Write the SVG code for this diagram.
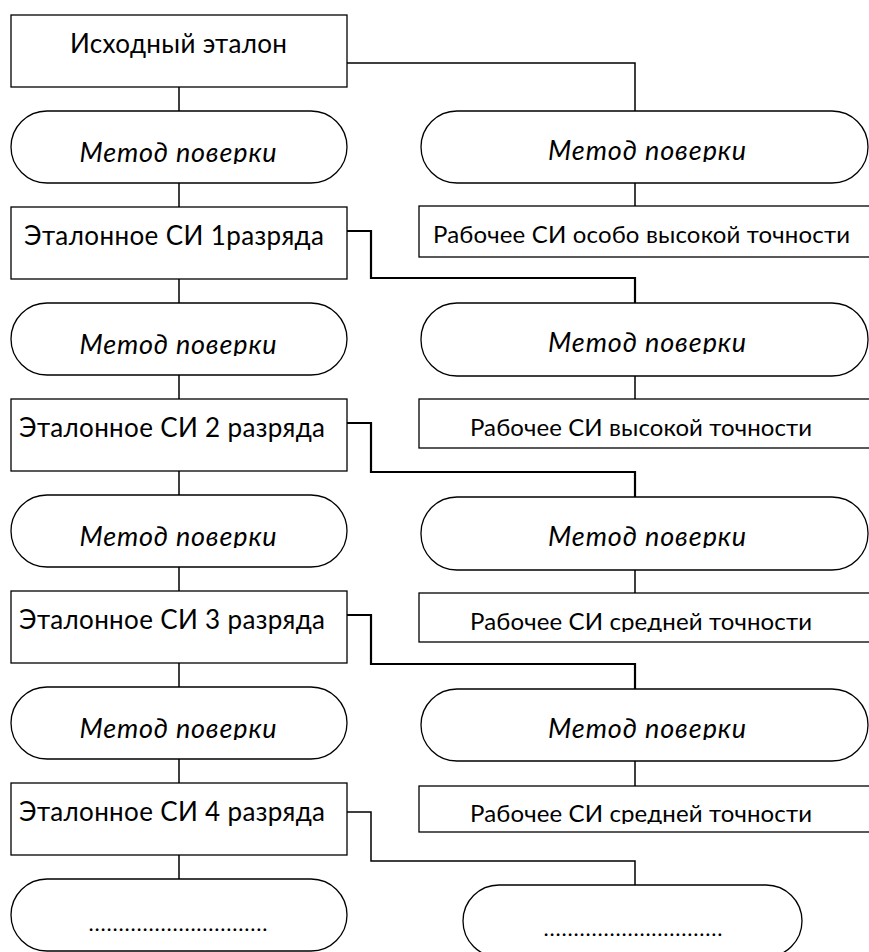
<svg xmlns="http://www.w3.org/2000/svg" width="869" height="952" viewBox="0 0 869 952">
<style>
  .box { fill: #fff; stroke: #000; stroke-width: 1.3; }
  .conn { fill: none; stroke: #000; stroke-width: 1.5; }
  .conn2 { fill: none; stroke: #000; stroke-width: 2.2; }
  .t { font-family: Lato, "Liberation Sans", sans-serif; font-size: 26px; fill: #000; text-anchor: middle; }
  .ti { font-family: Lato, "Liberation Sans", sans-serif; font-size: 27px; font-style: italic; fill: #000; text-anchor: middle; }
  .tr { font-family: Lato, "Liberation Sans", sans-serif; font-size: 24px; fill: #000; text-anchor: middle; }
  .dots { font-family: Lato, "Liberation Sans", sans-serif; font-size: 22px; fill: #000; text-anchor: middle; }
</style>
<defs>
  <clipPath id="cL1"><rect x="11" y="111" width="336" height="53"/></clipPath>
  <clipPath id="cL2"><rect x="11" y="303" width="336" height="53"/></clipPath>
  <clipPath id="cL3"><rect x="11" y="495" width="336" height="53"/></clipPath>
  <clipPath id="cL4"><rect x="11" y="687" width="336" height="53"/></clipPath>
  <clipPath id="cR1"><rect x="421" y="111" width="448" height="51"/></clipPath>
  <clipPath id="cR2"><rect x="421" y="303" width="448" height="51"/></clipPath>
  <clipPath id="cR3"><rect x="421" y="497" width="448" height="51"/></clipPath>
  <clipPath id="cR4"><rect x="421" y="689" width="448" height="51"/></clipPath>
  <clipPath id="cB3"><rect x="419" y="593" width="450" height="39"/></clipPath>
  <clipPath id="cB4"><rect x="419" y="786" width="450" height="38"/></clipPath>
</defs>

<g id="connectors">
  <path class="conn" d="M179,87 V111 M179,183 V207 M179,279 V303 M179,375 V399 M179,471 V495 M179,567 V591 M179,663 V687 M179,759 V783 M179,855 V879"/>
  <path class="conn" d="M347,63 H635 V111"/>
  <path class="conn2" d="M347,231 H371 V278 H635 V303"/>
  <path class="conn2" d="M347,423 H371 V472 H635 V497"/>
  <path class="conn2" d="M347,615 H371 V664 H635 V689"/>
  <path class="conn" d="M347,812 H371 V861 H635 V885"/>
  <path class="conn" d="M635,183 V206 M635,376 V399 M635,570 V593 M635,761 V786"/>
</g>

<g id="etalon-source">
  <rect class="box" x="11" y="15" width="336" height="72"/>
  <text class="t" x="178.5" y="53" textLength="217" lengthAdjust="spacing">Исходный эталон</text>
</g>
<g id="method-L1">
  <rect class="box" x="11" y="111" width="336" height="72" rx="36" ry="36"/>
  <text class="ti" x="178" y="162" textLength="197" lengthAdjust="spacing" clip-path="url(#cL1)">Метод поверки</text>
</g>
<g id="etalon-1">
  <rect class="box" x="11" y="207" width="336" height="72"/>
  <text class="t" x="174" y="245" textLength="300" lengthAdjust="spacing">Эталонное СИ 1разряда</text>
</g>
<g id="method-L2">
  <rect class="box" x="11" y="303" width="336" height="72" rx="36" ry="36"/>
  <text class="ti" x="178" y="354" textLength="197" lengthAdjust="spacing" clip-path="url(#cL2)">Метод поверки</text>
</g>
<g id="etalon-2">
  <rect class="box" x="11" y="399" width="336" height="72"/>
  <text class="t" x="172" y="437" textLength="306" lengthAdjust="spacing">Эталонное СИ 2 разряда</text>
</g>
<g id="method-L3">
  <rect class="box" x="11" y="495" width="336" height="72" rx="36" ry="36"/>
  <text class="ti" x="178" y="546" textLength="197" lengthAdjust="spacing" clip-path="url(#cL3)">Метод поверки</text>
</g>
<g id="etalon-3">
  <rect class="box" x="11" y="591" width="336" height="72"/>
  <text class="t" x="172" y="629" textLength="306" lengthAdjust="spacing">Эталонное СИ 3 разряда</text>
</g>
<g id="method-L4">
  <rect class="box" x="11" y="687" width="336" height="72" rx="36" ry="36"/>
  <text class="ti" x="178" y="738" textLength="197" lengthAdjust="spacing" clip-path="url(#cL4)">Метод поверки</text>
</g>
<g id="etalon-4">
  <rect class="box" x="11" y="783" width="336" height="72"/>
  <text class="t" x="172" y="821" textLength="306" lengthAdjust="spacing">Эталонное СИ 4 разряда</text>
</g>
<g id="method-L5">
  <rect class="box" x="11" y="879" width="336" height="72" rx="36" ry="36"/>
  <text class="dots" x="178" y="931" textLength="179" lengthAdjust="spacing">..............................</text>
</g>

<g id="method-R1">
  <rect class="box" x="421" y="111" width="447" height="72" rx="36" ry="36"/>
  <text class="ti" x="647" y="160" textLength="198" lengthAdjust="spacing" clip-path="url(#cR1)">Метод поверки</text>
</g>
<g id="work-1">
  <rect class="box" x="419" y="206" width="470" height="51"/>
  <text class="tr" x="641.5" y="243" textLength="417" lengthAdjust="spacing">Рабочее СИ особо высокой точности</text>
</g>
<g id="method-R2">
  <rect class="box" x="421" y="303" width="447" height="73" rx="36" ry="36"/>
  <text class="ti" x="647" y="352" textLength="198" lengthAdjust="spacing" clip-path="url(#cR2)">Метод поверки</text>
</g>
<g id="work-2">
  <rect class="box" x="419" y="399" width="470" height="49"/>
  <text class="tr" x="641" y="436" textLength="342" lengthAdjust="spacing">Рабочее СИ высокой точности</text>
</g>
<g id="method-R3">
  <rect class="box" x="421" y="497" width="447" height="73" rx="36" ry="36"/>
  <text class="ti" x="647" y="546" textLength="198" lengthAdjust="spacing" clip-path="url(#cR3)">Метод поверки</text>
</g>
<g id="work-3">
  <rect class="box" x="419" y="593" width="470" height="49"/>
  <text class="tr" x="641" y="630" textLength="342" lengthAdjust="spacing" clip-path="url(#cB3)">Рабочее СИ средней точности</text>
</g>
<g id="method-R4">
  <rect class="box" x="421" y="689" width="447" height="72" rx="36" ry="36"/>
  <text class="ti" x="647" y="738" textLength="198" lengthAdjust="spacing" clip-path="url(#cR4)">Метод поверки</text>
</g>
<g id="work-4">
  <rect class="box" x="419" y="786" width="470" height="46"/>
  <text class="tr" x="641" y="822" textLength="342" lengthAdjust="spacing" clip-path="url(#cB4)">Рабочее СИ средней точности</text>
</g>
<g id="method-R5">
  <rect class="box" x="463" y="885" width="339" height="72" rx="36" ry="36"/>
  <text class="dots" x="633" y="936" textLength="179" lengthAdjust="spacing">..............................</text>
</g>
</svg>
